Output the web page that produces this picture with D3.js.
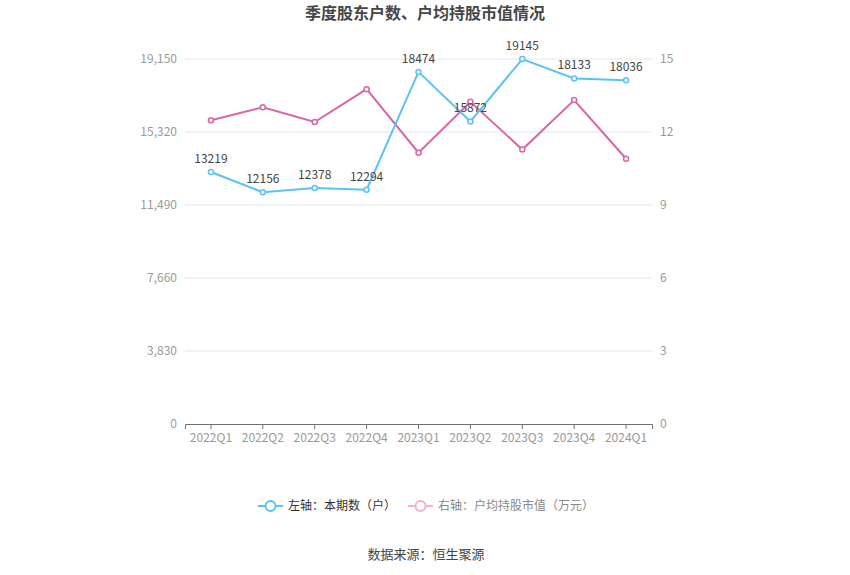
<!DOCTYPE html>
<html>
<head>
<meta charset="utf-8">
<script src="https://cdn.jsdelivr.net/npm/d3@7"></script>
<style>
  body { margin: 0; background: #fff; font-family: "Noto Sans CJK SC", "Noto Sans", sans-serif; }
  svg text { font-family: "Noto Sans CJK SC", "Noto Sans", sans-serif; }
</style>
</head>
<body>
<svg width="850" height="575"></svg>
<script>
const quarters = ['2022Q1', '2022Q2', '2022Q3', '2022Q4', '2023Q1', '2023Q2', '2023Q3', '2023Q4', '2024Q1'];
const holders = [13219, 12156, 12378, 12294, 18474, 15872, 19145, 18133, 18036];
const avgValue = [12.48, 13.02, 12.41, 13.76, 11.15, 13.24, 11.28, 13.31, 10.90];
const leftTicks = [0, 3830, 7660, 11490, 15320, 19150];
const rightTicks = [0, 3, 6, 9, 12, 15];

const blue = '#5bc2f5';
const pink = '#d965a8';
const margin = { left: 185, right: 198, top: 59, bottom: 151 };

const svg = d3.select('svg');
const width = +svg.attr('width');
const height = +svg.attr('height');
const innerWidth = width - margin.left - margin.right;
const innerHeight = height - margin.top - margin.bottom;

const x = d3.scaleBand().domain(quarters).range([0, innerWidth]);
const yL = d3.scaleLinear().domain([0, 19150]).range([innerHeight, 0]);
const yR = d3.scaleLinear().domain([0, 15]).range([innerHeight, 0]);
const cx = d => x(d) + x.bandwidth() / 2;

svg.append('text')
    .attr('x', width / 2).attr('y', 19)
    .attr('text-anchor', 'middle')
    .attr('font-size', 16).attr('font-weight', 'bold')
    .attr('fill', '#464646')
    .text('季度股东户数、户均持股市值情况');

const g = svg.append('g')
    .attr('transform', `translate(${margin.left},${margin.top})`);

// grid
g.selectAll('.grid').data(leftTicks.slice(1))
    .enter().append('line')
    .attr('x1', 0).attr('x2', innerWidth)
    .attr('y1', d => yL(d)).attr('y2', d => yL(d))
    .attr('stroke', '#e0e6f1');

// left labels
g.selectAll('.ltick').data(leftTicks)
    .enter().append('text')
    .attr('x', -8).attr('y', d => yL(d))
    .attr('dy', '0.35em').attr('text-anchor', 'end')
    .attr('font-size', 12).attr('fill', '#999')
    .text(d => d3.format(',')(d));

// right labels
g.selectAll('.rtick').data(rightTicks)
    .enter().append('text')
    .attr('x', innerWidth + 8).attr('y', d => yR(d))
    .attr('dy', '0.35em').attr('text-anchor', 'start')
    .attr('font-size', 12).attr('fill', '#999')
    .text(d => d);

// x axis
const xAxis = g.append('g')
    .attr('transform', `translate(0,${innerHeight})`)
    .call(d3.axisBottom(x).tickSizeOuter(0).tickSize(5).tickPadding(4));
xAxis.select('.domain').attr('stroke', '#6e7079');
xAxis.selectAll('.tick line').attr('stroke', '#6e7079');
xAxis.selectAll('.tick text').attr('font-size', 12).attr('fill', '#999');

const drawSeries = (vals, y, color) => {
    const line = d3.line().x((d, i) => cx(quarters[i])).y(d => y(d));
    g.append('path').datum(vals)
        .attr('d', line).attr('fill', 'none')
        .attr('stroke', color).attr('stroke-width', 2);
    g.selectAll(null).data(vals)
        .enter().append('circle')
        .attr('cx', (d, i) => cx(quarters[i])).attr('cy', d => y(d))
        .attr('r', 2.5).attr('fill', '#fff')
        .attr('stroke', color).attr('stroke-width', 1.5);
};

drawSeries(avgValue, yR, pink);
drawSeries(holders, yL, blue);

g.selectAll('.lbl').data(holders)
    .enter().append('text')
    .attr('x', (d, i) => cx(quarters[i])).attr('y', d => yL(d) - 9)
    .attr('text-anchor', 'middle')
    .attr('font-size', 12).attr('fill', '#444')
    .text(d => d);

// legend
const legend = svg.append('g').attr('transform', 'translate(0,506)');
const items = [
    { label: '左轴：本期数（户）', color: blue, x: 258 },
    { label: '右轴：户均持股市值（万元）', color: pink, x: 408, faded: true }
];
items.forEach(it => {
    const lg = legend.append('g').attr('transform', `translate(${it.x},0)`);
    lg.append('line').attr('x1', 0).attr('x2', 25)
        .attr('stroke', it.faded ? '#eeb3d4' : it.color).attr('stroke-width', 2);
    lg.append('circle').attr('cx', 12.5).attr('r', 5)
        .attr('fill', '#fff').attr('stroke', it.faded ? '#eeb3d4' : it.color).attr('stroke-width', 2);
    lg.append('text').attr('x', 30).attr('dy', '0.35em')
        .attr('font-size', 12).attr('fill', it.faded ? '#888' : '#333')
        .text(it.label);
});

svg.append('text')
    .attr('x', width / 2 + 1).attr('y', 559)
    .attr('text-anchor', 'middle')
    .attr('font-size', 13).attr('fill', '#444')
    .text('数据来源：恒生聚源');
</script>
</body>
</html>
